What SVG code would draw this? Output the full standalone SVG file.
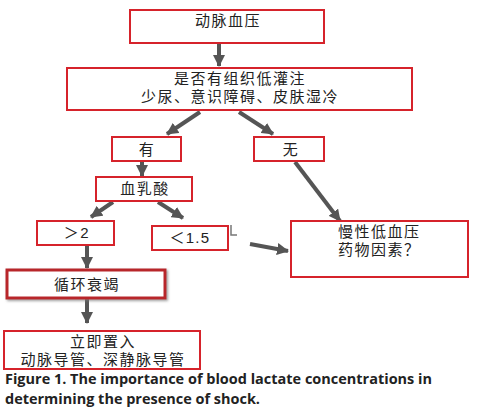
<svg xmlns="http://www.w3.org/2000/svg" width="480" height="416" viewBox="0 0 480 416">
<defs>
<marker id="ah" viewBox="0 0 12 12" refX="11" refY="6" markerWidth="12" markerHeight="12" markerUnits="userSpaceOnUse" orient="auto">
<path d="M0,0 L12,6 L0,12 z" fill="#555"/>
</marker>
<filter id="sh" x="-10%" y="-20%" width="120%" height="150%">
<feDropShadow dx="1.5" dy="1.5" stdDeviation="1" flood-color="#777" flood-opacity="0.7"/>
</filter>
</defs>
<style>
.box{fill:#fff;stroke:#d6232b;stroke-width:2}
.t{font-family:"Liberation Sans","Noto Sans CJK SC",sans-serif;font-size:15px;letter-spacing:1.5px;fill:#222}
.c{text-anchor:middle}
.ar{stroke:#555;stroke-width:4;fill:none;marker-end:url(#ah)}
.cap{font-family:"Open Sans","Liberation Sans",sans-serif;font-weight:bold;font-size:14.5px;fill:#222}
</style>
<rect width="480" height="416" fill="#fff"/>
<g id="connectors">
<line class="ar" x1="219" y1="43" x2="219" y2="66"/>
<line class="ar" x1="200" y1="112" x2="167" y2="134"/>
<line class="ar" x1="239" y1="112" x2="273" y2="134"/>
<line class="ar" x1="142" y1="161" x2="142" y2="176"/>
<line class="ar" x1="295" y1="162" x2="340" y2="221"/>
<line class="ar" x1="113" y1="202" x2="91" y2="217"/>
<line class="ar" x1="158" y1="202" x2="183" y2="218"/>
<line class="ar" x1="250" y1="244" x2="288" y2="251"/>
<line class="ar" x1="87" y1="245" x2="87" y2="268"/>
<line class="ar" x1="87" y1="298" x2="87" y2="323"/>
<polyline points="231,225 231,235 237,235" fill="none" stroke="#777" stroke-width="1.5"/>
</g>
<g id="n1"><rect class="box" x="130" y="10" width="194" height="33"/><text class="t c" x="228" y="26">动脉血压</text></g>
<g id="n2"><rect class="box" x="67" y="68" width="345" height="42"/><text class="t c" x="240" y="84">是否有组织低灌注</text><text class="t c" x="240" y="101.5">少尿、意识障碍、皮肤湿冷</text></g>
<g id="n3"><rect class="box" x="112" y="137" width="69" height="24"/><text class="t c" x="147" y="155">有</text></g>
<g id="n4"><rect class="box" x="254" y="137" width="70" height="24"/><text class="t c" x="291" y="155">无</text></g>
<g id="n5"><rect class="box" x="96" y="177" width="96" height="24"/><text class="t c" x="145" y="194">血乳酸</text></g>
<g id="n6"><rect class="box" x="37" y="221" width="77" height="24"/><text class="t c" x="77" y="238">＞2</text></g>
<g id="n7"><rect class="box" x="152" y="226" width="76" height="24"/><text class="t c" x="190" y="243" textLength="41" lengthAdjust="spacing">＜1.5</text></g>
<g id="n8"><rect class="box" x="291" y="221" width="177" height="56"/><text class="t" x="338" y="237">慢性低血压</text><text class="t" x="338" y="254.5">药物因素？</text></g>
<g id="n9"><rect x="7" y="270" width="158" height="28" fill="#fff" stroke="#b8262c" stroke-width="3" filter="url(#sh)"/><text class="t c" x="87" y="290">循环衰竭</text></g>
<g id="n10"><rect class="box" x="4" y="331" width="196" height="38"/><text class="t c" x="103" y="347">立即置入</text><text class="t c" x="103" y="364.5">动脉导管、深静脉导管</text></g>
<g id="caption">
<text class="cap" x="5" y="384" textLength="427" lengthAdjust="spacingAndGlyphs">Figure 1. The importance of blood lactate concentrations in</text>
<text class="cap" x="5" y="404" textLength="255" lengthAdjust="spacingAndGlyphs">determining the presence of shock.</text>
</g>
</svg>
